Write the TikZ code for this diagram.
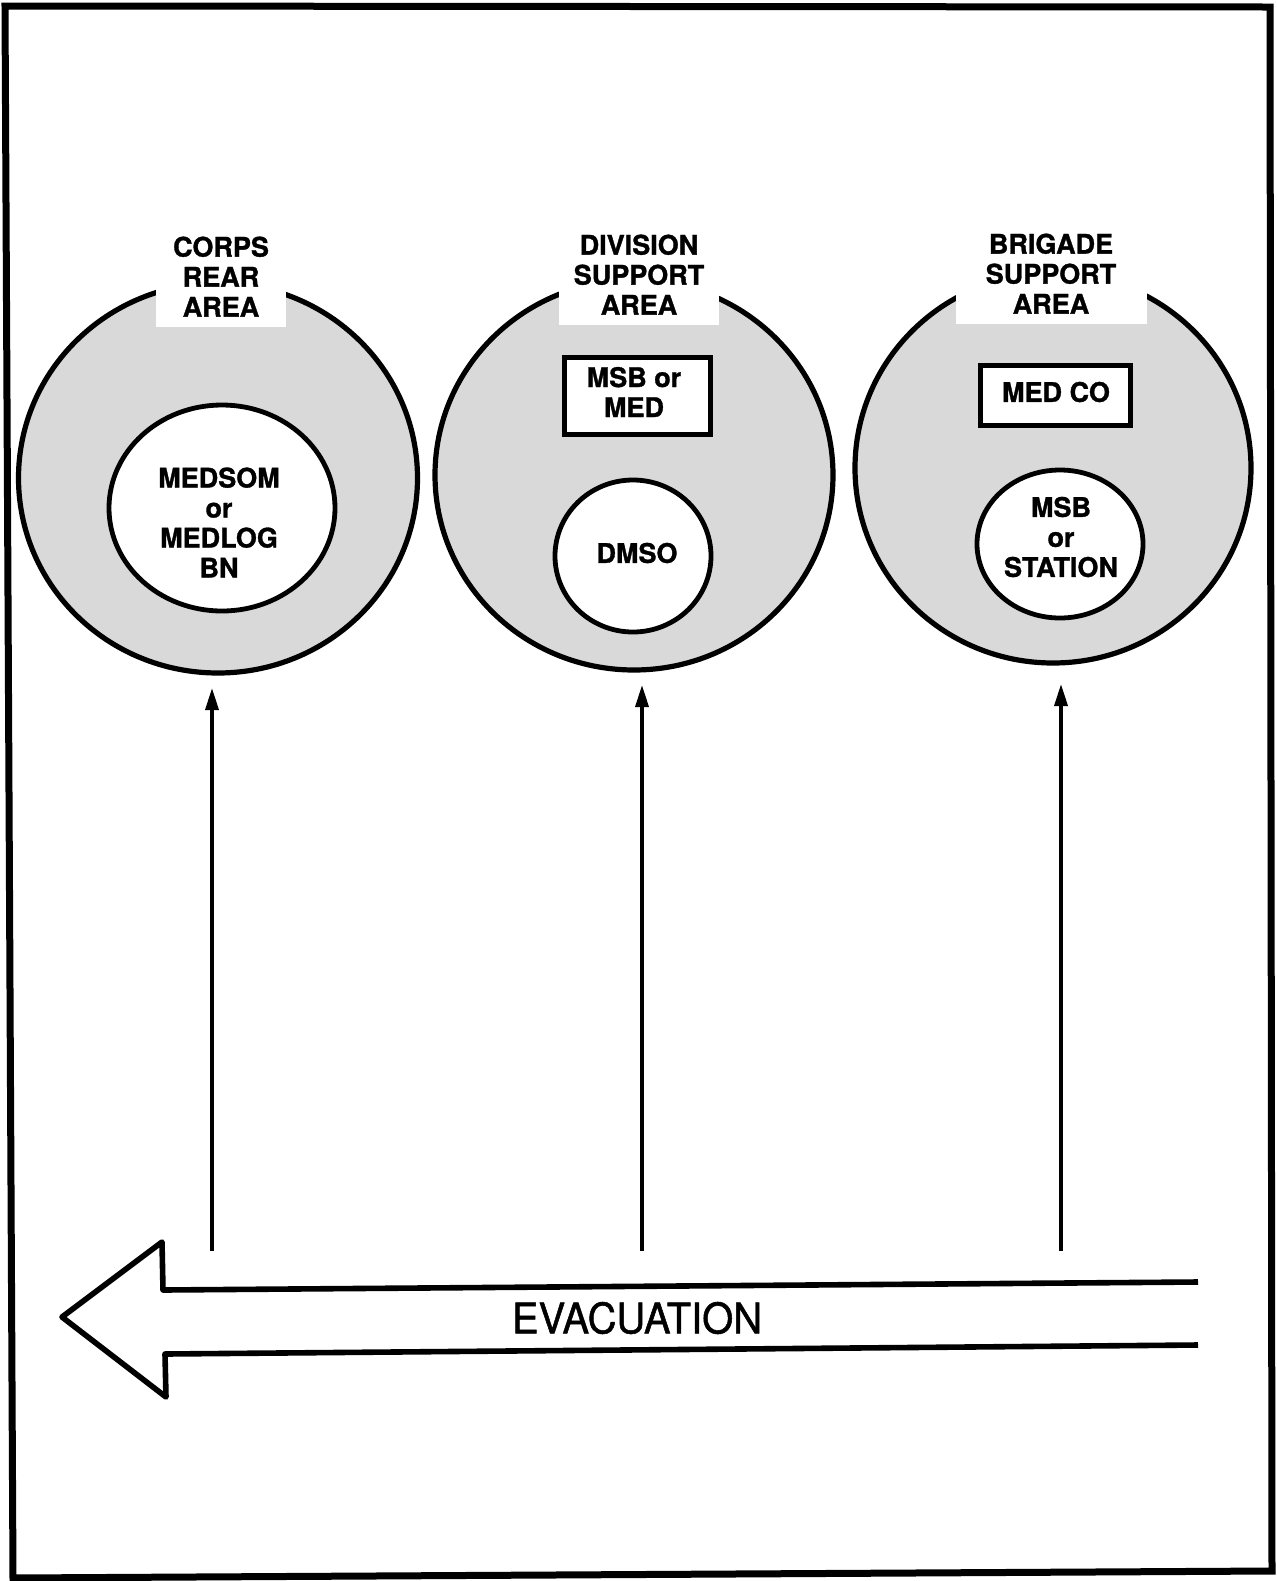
\documentclass[tikz,border=0pt]{standalone}
\usepackage{fontspec}
\setmainfont{TeX Gyre Heros}[BoldFeatures={FakeBold=1.2}]
\newfontfamily\evacfont{TeX Gyre Heros}[FakeBold=1.2]
\usetikzlibrary{shapes.geometric,arrows.meta}
\begin{document}
\begin{tikzpicture}[x=0.5pt,y=-0.5pt,
  zone/.style={ellipse, draw, line width=2.6pt, fill=black!15, inner sep=0pt},
  unit/.style={ellipse, draw, line width=2.4pt, fill=white, inner sep=0pt},
  unitbox/.style={rectangle, draw, line width=2.5pt, fill=white, inner sep=0pt},
  lbl/.style={align=center, font=\fontsize{13.5}{15}\selectfont\bfseries, inner sep=0pt},
  areatitle/.style={lbl, fill=white, inner ysep=5pt, inner xsep=0pt, anchor=south},
  feed/.style={line width=1.8pt, -{Triangle[length=11pt,width=6.5pt]}},
  evac/.style={line width=2.8pt, line join=round, line cap=butt},
]
\useasboundingbox (0,0) rectangle (1276,1581);

% page frame
\draw[line width=3.5pt] (5,6) -- (1270,7) -- (1272,1571) -- (13,1578) -- cycle;

% support areas (shaded zones)
\node[zone, minimum width=199.5pt, minimum height=195pt] (corps) at (218,478) {};
\node[zone, minimum width=199pt, minimum height=195pt] (div) at (634,475) {};
\node[zone, minimum width=198pt, minimum height=195pt] (bde) at (1053,468) {};

% units inside each area
\node[unit, minimum width=113pt, minimum height=103pt] (medsom) at (222,508) {};
\node[unit, minimum width=78pt, minimum height=76pt] (dmso) at (633,556) {};
\node[unit, minimum width=83pt, minimum height=74pt] (msbst) at (1060,544) {};
\node[unitbox, minimum width=73pt, minimum height=38.5pt] (msbmed) at (637.5,396) {};
\node[unitbox, minimum width=75pt, minimum height=30pt] (medco) at (1055.5,395.5) {};

% area titles, on white patches that break the zone outline
\node[areatitle, minimum width=65pt] (corpsT) at (221,327) {CORPS\\REAR\\AREA};
\node[areatitle, minimum width=80pt] (divT) at (639,325) {DIVISION\\SUPPORT\\AREA};
\node[areatitle, minimum width=95.5pt] (bdeT) at (1051,324) {BRIGADE\\SUPPORT\\AREA};

% unit labels
\node[lbl] (medsomT) at (219,522.5) {MEDSOM\\or\\MEDLOG\\BN};
\node[lbl] (msbmedT) at (634,392) {MSB or\\MED};
\node[lbl] (dmsoT) at (637,553) {DMSO};
\node[lbl] (medcoT) at (1056,392) {MED CO};
\node[lbl] (msbstT) at (1061,537) {MSB\\or\\STATION};

% supply flow up to each area
\coordinate (f1) at (212,1251); \coordinate (t1) at (212,688);
\coordinate (f2) at (642,1251); \coordinate (t2) at (642,685);
\coordinate (f3) at (1061,1251); \coordinate (t3) at (1061,684);
\draw[feed] (f1) -- (t1);
\draw[feed] (f2) -- (t2);
\draw[feed] (f3) -- (t3);

% evacuation arrow
\draw[evac] (1198,1282) -- (163,1290) -- (162,1242) -- (62,1317) -- (166,1397) -- (165,1354) -- (1198,1345);
\node[inner sep=0pt, font=\evacfont\fontsize{21}{23}\selectfont] (evacT) at (637,1318) {\scalebox{0.95}[1]{EVACUATION}};
\end{tikzpicture}
\end{document}
